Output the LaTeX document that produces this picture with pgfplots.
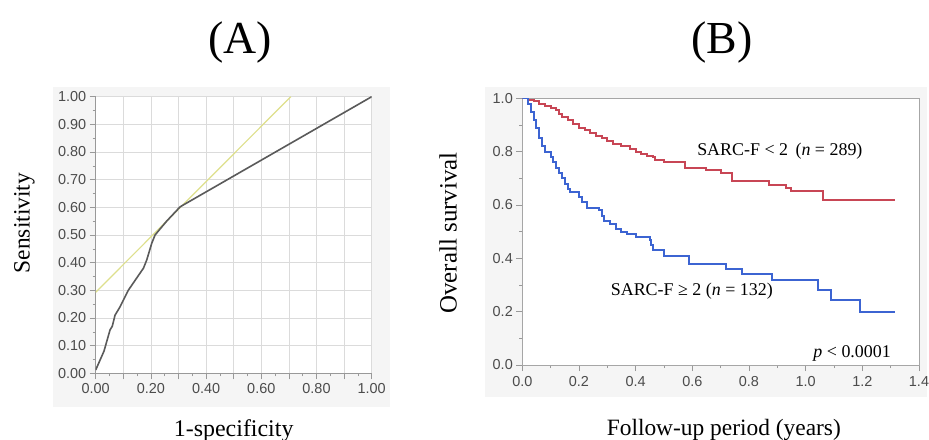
\documentclass[border=0pt]{standalone}
\usepackage{pgfplots}
\pgfplotsset{compat=1.18}
\usepackage{fontspec}
\setmainfont{Liberation Serif}
\newfontfamily\ticksf{Liberation Sans}
\definecolor{rocgray}{RGB}{90,90,90}
\definecolor{tanyel}{RGB}{222,224,140}
\definecolor{kmred}{RGB}{200,70,85}
\definecolor{kmblue}{RGB}{60,100,210}
\definecolor{panelbg}{RGB}{245,245,245}
\begin{document}
\begin{tikzpicture}
\useasboundingbox (0,0) rectangle (929bp,440bp);
\fill[panelbg] (53bp,33bp) rectangle (390bp,353bp);
\fill[panelbg] (485bp,43bp) rectangle (927bp,353bp);
\node[font=\fontsize{46}{46}\selectfont, anchor=base] at (240bp,386.7bp) {(A)};
\node[font=\fontsize{46}{46}\selectfont, anchor=base] at (722bp,386.7bp) {(B)};

\begin{axis}[
  at={(95.7bp,66.7bp)}, anchor=south west,
  scale only axis, width=276bp, height=276.6bp,
  xmin=0, xmax=1, ymin=0, ymax=1,
  xtick={0,0.1,0.2,0.3,0.4,0.5,0.6,0.7,0.8,0.9,1},
  xticklabels={0.00,,0.20,,0.40,,0.60,,0.80,,1.00},
  ytick={0,0.1,0.2,0.3,0.4,0.5,0.6,0.7,0.8,0.9,1},
  yticklabels={0.00,0.10,0.20,0.30,0.40,0.50,0.60,0.70,0.80,0.90,1.00},
  minor x tick num=1, minor y tick num=1,
  tick align=outside, tick pos=left,
  major tick length=6bp, minor tick length=3bp,
  tick style={color=black!40, line width=0.6bp},
  grid=major, major grid style={black!14, line width=0.8bp},
  axis x line*=bottom, axis y line*=left,
  axis line style={black!40, line width=0.8bp, -},
  tick label style={font=\ticksf\fontsize{14.5}{14.5}\selectfont, text=black!70},
  xticklabel style={yshift=-1bp},
  axis background/.style={fill=white},
  xlabel={1-specificity},
  xlabel style={font=\fontsize{24}{24}\selectfont, at={(axis description cs:0.5,-0.227)}, anchor=base},
  ylabel={Sensitivity},
  ylabel style={font=\fontsize{23.5}{23.5}\selectfont, at={(axis description cs:-0.258,0.543)}, anchor=center, rotate=0},
]
\addplot[color=tanyel, line width=1.2bp] coordinates {(0,0.293) (0.707,1)};
\addplot[color=rocgray, line width=1.6bp] coordinates {
(0,0.012) (0.03,0.08) (0.052,0.157) (0.06,0.17) (0.07,0.21) (0.088,0.24)
(0.118,0.30) (0.173,0.38) (0.185,0.41) (0.203,0.47) (0.215,0.50)
(0.257,0.55) (0.306,0.602) (1,1)};
\end{axis}

\begin{axis}[
  at={(522.3bp,75bp)}, anchor=south west,
  scale only axis, width=396.7bp, height=266.7bp,
  xmin=0, xmax=1.4, ymin=0, ymax=1,
  xtick={0,0.2,0.4,0.6,0.8,1.0,1.2,1.4},
  xticklabels={0.0,0.2,0.4,0.6,0.8,1.0,1.2,1.4},
  ytick={0,0.2,0.4,0.6,0.8,1},
  yticklabels={0.0,0.2,0.4,0.6,0.8,1.0},
  minor x tick num=1, minor y tick num=1,
  tick align=outside, tick pos=left,
  major tick length=6bp, minor tick length=3bp,
  tick style={color=black!40, line width=0.6bp},
  axis line style={black!35, line width=0.8bp},
  tick label style={font=\ticksf\fontsize{14.5}{14.5}\selectfont, text=black!70},
  xticklabel style={yshift=-2bp},
  axis background/.style={fill=white},
  xlabel={Follow-up period (years)},
  xlabel style={font=\fontsize{23.5}{23.5}\selectfont, at={(axis description cs:0.508,-0.2625)}, anchor=base},
  ylabel={Overall survival},
  ylabel style={font=\fontsize{25}{25}\selectfont, at={(axis description cs:-0.187,0.495)}, anchor=center},
]
\addplot[const plot, color=kmred, line width=2bp] coordinates {
(0,1.0) (0.02,0.995) (0.04,0.99) (0.06,0.98) (0.08,0.97) (0.10,0.965)
(0.12,0.955) (0.13,0.94) (0.14,0.93) (0.16,0.92) (0.18,0.905) (0.20,0.89)
(0.22,0.88) (0.24,0.87) (0.26,0.86) (0.28,0.85) (0.30,0.84) (0.32,0.83)
(0.35,0.82) (0.38,0.81) (0.40,0.80) (0.42,0.79) (0.44,0.785) (0.46,0.78)
(0.47,0.77) (0.50,0.76) (0.575,0.74) (0.65,0.73) (0.70,0.72) (0.74,0.69)
(0.87,0.675) (0.93,0.665) (0.95,0.652) (1.062,0.62) (1.315,0.62)};
\addplot[const plot, color=kmblue, line width=2bp] coordinates {
(0,1.0) (0.02,0.98) (0.03,0.95) (0.04,0.92) (0.05,0.89) (0.06,0.85)
(0.07,0.82) (0.08,0.80) (0.10,0.78) (0.11,0.76) (0.12,0.74) (0.13,0.72)
(0.14,0.70) (0.15,0.68) (0.16,0.66) (0.17,0.65) (0.20,0.63) (0.21,0.61)
(0.23,0.59) (0.27,0.58) (0.28,0.56) (0.29,0.54) (0.31,0.53) (0.33,0.51)
(0.35,0.50) (0.37,0.49) (0.40,0.48) (0.45,0.47) (0.455,0.45) (0.46,0.43)
(0.50,0.41) (0.59,0.38) (0.72,0.36) (0.777,0.34) (0.88,0.32) (1.044,0.28)
(1.09,0.245) (1.19,0.20) (1.315,0.20)};
\node[anchor=west, font=\fontsize{18}{18}\selectfont] at (axis cs:0.605,0.80) {SARC-F < 2 \,(\textit{n} = 289)};
\node[anchor=west, font=\fontsize{18}{18}\selectfont] at (axis cs:0.30,0.275) {SARC-F ≥ 2 (\textit{n} = 132)};
\node[anchor=east, font=\fontsize{18}{18}\selectfont] at (axis cs:1.313,0.044) {\textit{p} < 0.0001};
\end{axis}
\end{tikzpicture}
\end{document}
